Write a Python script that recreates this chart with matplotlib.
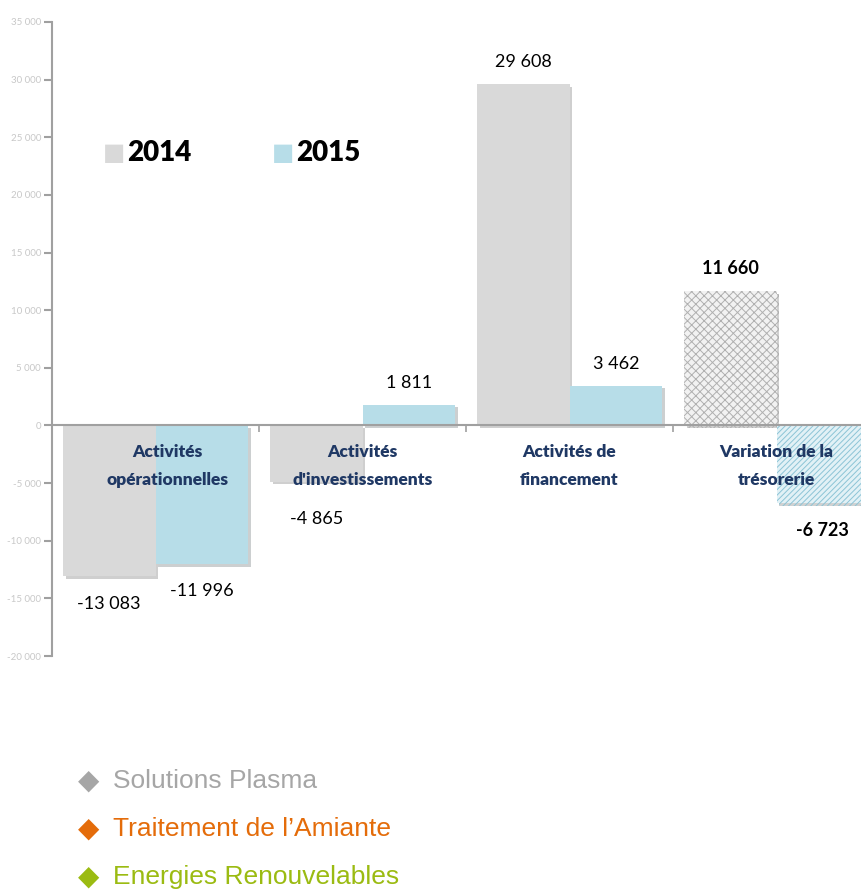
import numpy as np
import matplotlib
matplotlib.use('Agg')
import matplotlib.pyplot as plt
from matplotlib import patheffects

plt.rcParams['font.family'] = ['Lato', 'DejaVu Sans']
plt.rcParams['hatch.linewidth'] = 0.7

categories = ["Activités\nopérationnelles", "Activités\nd'investissements",
              "Activités de\nfinancement", "Variation de la\ntrésorerie"]
v2014 = [-13083, -4865, 29608, 11660]
v2015 = [-11996, 1811, 3462, -6723]
lbl2014 = ["-13 083", "-4 865", "29 608", "11 660"]
lbl2015 = ["-11 996", "1 811", "3 462", "-6 723"]
yticks = np.arange(-20000, 35001, 5000)
legend_items = ["Solutions Plasma", "Traitement de l\u2019Amiante", "Energies Renouvelables"]
legend_colors = ['#a6a6a6', '#e46c0a', '#9bbb12']

W, H = 861, 891
fig = plt.figure(figsize=(W/100, H/100), dpi=100)
ax = fig.add_axes([52/W, (H-656)/H, 828/W, 634/H])

x = np.arange(len(categories))
w = 0.447
shadow = [patheffects.SimplePatchShadow(offset=(2, -2), alpha=0.25), patheffects.Normal()]

c14 = ['#d9d9d9'] * 3 + ['#f2f2f2']
c15 = ['#b7dde8'] * 3 + ['#e2f1f6']
b14 = ax.bar(x - w/2, v2014, w, color=c14, linewidth=0, zorder=2)
b15 = ax.bar(x + w/2, v2015, w, color=c15, linewidth=0, zorder=2)
for b in list(b14) + list(b15):
    b.set_path_effects(shadow)
b14[3].set_hatch('xxxx')
b14[3].set_edgecolor('#b0b0b0')
b15[3].set_hatch('//////')
b15[3].set_edgecolor('#8cc4d6')

ax.set_xlim(-0.5, 3.5)
ax.set_ylim(-20000, 35000)
ax.axhline(0, color='#a0a0a0', lw=1.5, zorder=3)
ax.vlines(x[:-1] + 0.5, -550, 0, color='#a0a0a0', lw=1.2, zorder=3)

for s in ['top', 'right', 'bottom']:
    ax.spines[s].set_visible(False)
ax.spines['left'].set_color('#a0a0a0')
ax.spines['left'].set_linewidth(1.5)
ax.set_xticks([])
ax.set_yticks(yticks)
ax.set_yticklabels(['{:,}'.format(t).replace(',', ' ') for t in yticks],
                   color='#c8c8c8', fontsize=7)
ax.tick_params(axis='y', length=6, width=1.5, color='#a0a0a0', pad=2)

# value labels
def put(xs, vals, labels, bold):
    for i, (xi, v, t) in enumerate(zip(xs, vals, labels)):
        if v >= 0:
            off, va = 10, 'bottom'
        else:
            off, va = -14, 'top'
        if v == -4865:
            off = -21
        ax.annotate(t, (xi, v), xytext=(0, off), textcoords='offset points',
                    ha='center', va=va, fontsize=13,
                    fontweight='bold' if bold[i] else 'normal', color='black', zorder=5)

put(x - w/2, v2014, lbl2014, [False, False, False, True])
put(x + w/2, v2015, lbl2015, [False, False, False, True])

# category labels
shift = [0.06, 0.0, 0.0, 0.0]
for xi, c, s in zip(x, categories, shift):
    ax.text(xi + s, -1600, c, ha='center', va='top', fontsize=12.5, fontweight='heavy',
            color='#1f3864', linespacing=1.95, zorder=5)

# 2014 / 2015 legend
fig.text(103/W, 1 - 153/H, '\u25a0', color='#d9d9d9', fontsize=17, va='center', ha='left',
         family='DejaVu Sans')
fig.text(127/W, 1 - 153/H, '2014', fontsize=20, fontweight='heavy', va='center', ha='left')
fig.text(272/W, 1 - 153/H, '\u25a0', color='#b7dde8', fontsize=17, va='center', ha='left',
         family='DejaVu Sans')
fig.text(296/W, 1 - 153/H, '2015', fontsize=20, fontweight='heavy', va='center', ha='left')

# bottom legend
for i, (t, c) in enumerate(zip(legend_items, legend_colors)):
    yy = 1 - (781 + 48*i)/H
    fig.text(78/W, yy, '\u25c6', color=c, fontsize=20, va='center', ha='left',
             family='DejaVu Sans')
    fig.text(113/W, yy, t, color=c, fontsize=19, va='center', ha='left',
             family=['Liberation Sans', 'DejaVu Sans'])

fig.savefig('out.png', dpi=100)
